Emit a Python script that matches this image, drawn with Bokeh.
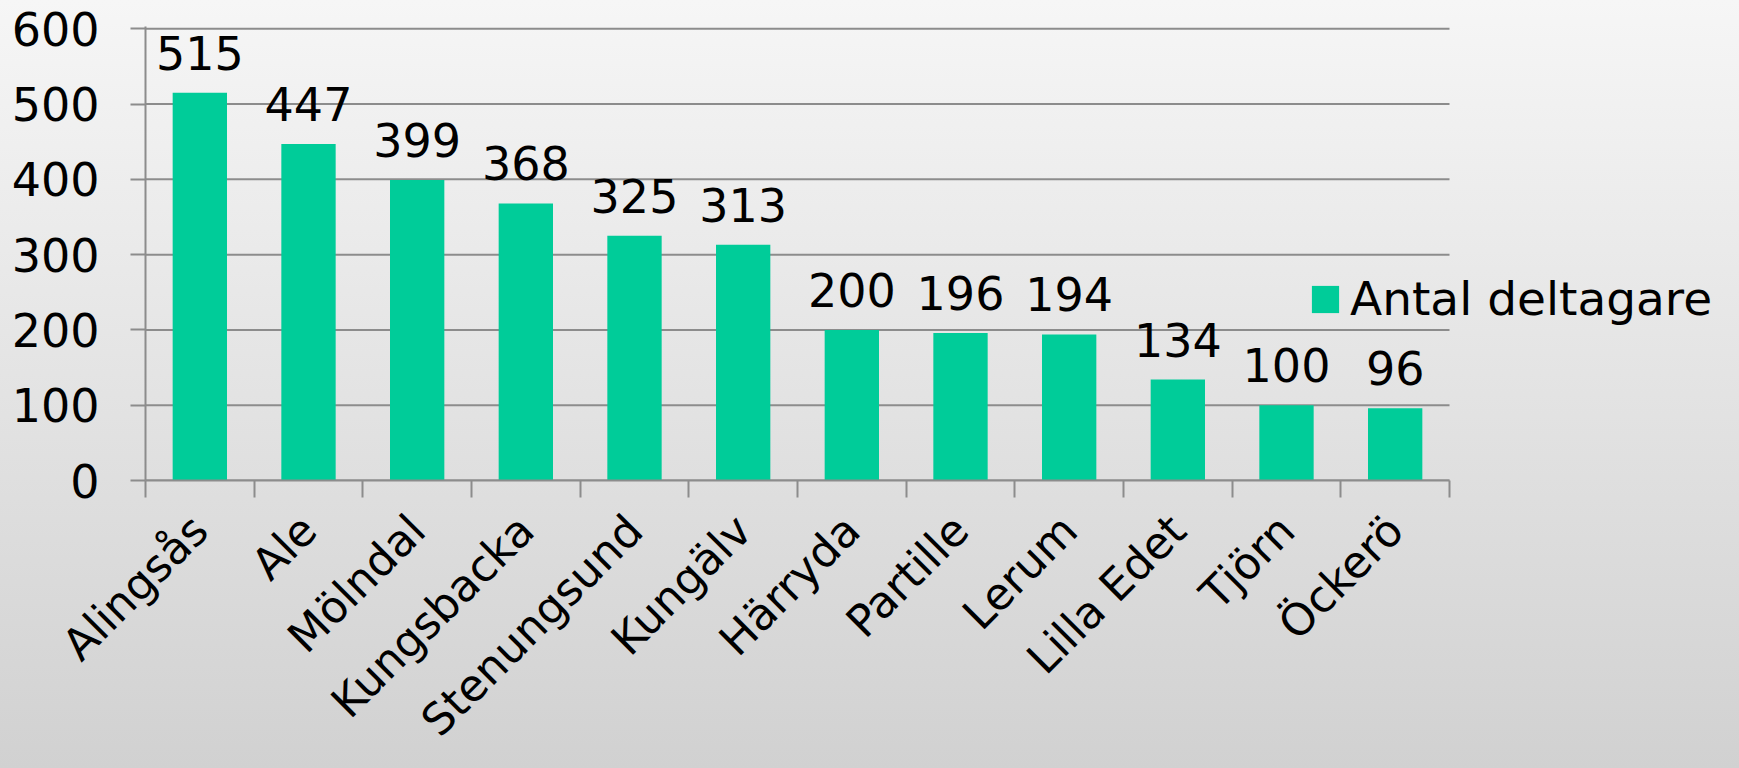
import math
from bokeh.plotting import figure
from bokeh.models import (ColumnDataSource, Range1d, LinearAxis, FixedTicker, Legend, LegendItem,
                          GlobalInlineStyleSheet, CustomJSTickFormatter)
from bokeh.core.properties import value
from bokeh.embed import file_html
from bokeh.resources import INLINE

categories = ["Alingsås", "Ale", "Mölndal", "Kungsbacka", "Stenungsund", "Kungälv",
              "Härryda", "Partille", "Lerum", "Lilla Edet", "Tjörn", "Öckerö"]
participants = [515, 447, 399, 368, 325, 313, 200, 196, 194, 134, 100, 96]
series_name = "Antal deltagare"
y_ticks = [0, 100, 200, 300, 400, 500, 600]

FONT = "DejaVu Sans"
FS = "46px"
BAR = "#00cc99"
GRID = "#8c8c8c"
W, H = 1739, 768
LEFT, TOP, BOTTOM = 145, 26, 288
CAT_PX = 1304 / len(categories)          # pixel width of one category slot

n = len(categories)
centers = [i + 0.5 for i in range(n)]      # slot centres on the category axis
bounds = list(range(n + 1))                # slot boundaries

src = ColumnDataSource(dict(x=centers, cat=categories, val=participants,
                            label=[str(v) for v in participants]))

p = figure(width=W, height=H,
           x_range=Range1d(0, (W - LEFT) / CAT_PX),
           y_range=Range1d(0, 603),
           output_backend="svg", toolbar_location=None, x_axis_location=None,
           min_border_left=LEFT, min_border_right=0, min_border_top=TOP, min_border_bottom=BOTTOM)

p.background_fill_alpha = 0
p.border_fill_alpha = 0
p.outline_line_color = None
p.stylesheets = [GlobalInlineStyleSheet(css=(
    "html{min-height:100%;overflow:hidden;background:linear-gradient(to bottom,#f6f6f6 0%,#d1d1d1 100%);}"
    "body{background:transparent;overflow:hidden;}"))]

# y axis
yax = p.yaxis[0]
yax.ticker = FixedTicker(ticks=y_ticks, minor_ticks=[])
yax.major_tick_out = 15
yax.major_tick_in = 0
yax.major_tick_line_color = GRID
yax.major_tick_line_width = 2
yax.axis_line_color = GRID
yax.axis_line_width = 2
yax.major_label_text_font = FONT
yax.major_label_text_font_size = FS
yax.major_label_text_color = "black"
yax.major_label_standoff = 31

p.xgrid.visible = False
p.ygrid.visible = False

# horizontal gridlines limited to the category area
p.segment(x0=[0] * len(y_ticks), x1=[n] * len(y_ticks), y0=y_ticks, y1=y_ticks,
          line_color=GRID, line_width=2)

# category axis: labels at slot centres, boundary ticks as minor ticks
xax = LinearAxis(ticker=FixedTicker(ticks=centers, minor_ticks=bounds),
                 formatter=CustomJSTickFormatter(args=dict(names=categories),
                                                 code="return names[Math.floor(tick)]"),
                 bounds=(0, n),
                 major_tick_out=0, major_tick_in=0, major_tick_line_color=None,
                 minor_tick_out=17, minor_tick_in=0,
                 minor_tick_line_color=GRID, minor_tick_line_width=2,
                 axis_line_color=GRID, axis_line_width=2,
                 major_label_orientation=math.pi / 4,
                 major_label_text_font=FONT, major_label_text_font_size="44px",
                 major_label_text_color="black", major_label_standoff=25)
p.add_layout(xax, "below")

r = p.vbar(x="x", top="val", width=0.5, source=src, fill_color=BAR, line_color=None)

p.text(x="x", y="val", text="label", source=src, text_align="center",
       text_baseline="alphabetic", y_offset=-40, text_font=value(FONT),
       text_font_size=FS, text_color="black")

legend = Legend(items=[LegendItem(label=series_name, renderers=[r])],
                location=(1163, 154), border_line_color=None, background_fill_alpha=0,
                padding=0, margin=0, spacing=0, glyph_width=34, glyph_height=34,
                label_standoff=8, label_text_font=FONT, label_text_font_size="47px",
                label_text_color="black")
p.add_layout(legend, "center")

open("out.html", "w").write(file_html(p, INLINE))
